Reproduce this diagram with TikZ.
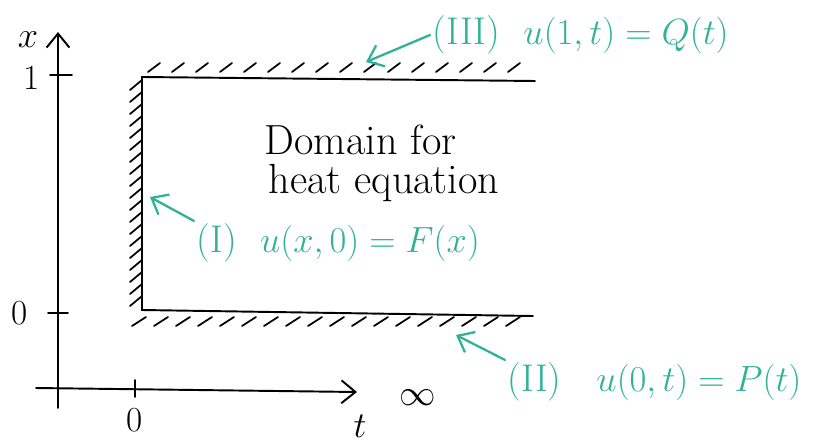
\documentclass[tikz,border=0pt]{standalone}
\usepackage{amsmath,amssymb}
\usepackage{tikz}
\usetikzlibrary{arrows.meta,positioning}
\usepackage{xcolor}
\definecolor{pengreen}{RGB}{48,178,150}

\begin{document}
\begin{tikzpicture}[x=0.02cm, y=-0.02cm, >={Straight Barb[length=8pt,width=13pt]},
  line width=1.1pt, line cap=round,
  hatch/.style={line width=1pt},
  big/.style={font=\fontsize{20}{24}\selectfont},
  cond/.style={font=\fontsize{22}{26}\selectfont, text=pengreen, anchor=west, inner sep=1pt},
  pointer/.style={->, draw=pengreen, line width=1.3pt}]
  \useasboundingbox (0,0) rectangle (837,446);

  % Define coordinates for axes and domain corners
  \coordinate (xb) at (58,408);
  \coordinate (xt) at (58,32);
  \coordinate (tl) at (36,388);
  \coordinate (tr) at (357,392);
  \coordinate (A) at (535,81);
  \coordinate (B) at (142,77);
  \coordinate (C) at (142,310);
  \coordinate (D) at (533,316);

  % Axes with ticks
  \draw[->] (xb) -- (xt);
  \draw[->] (tl) -- (tr);
  \draw (50,75) -- (72,75);
  \draw (48,313) -- (68,313);
  \draw (135,380) -- (135,397);

  % Axis labels
  \node[big] (xlab) at (28,40) {$x$};
  \node[big] (one) at (32,78) {1};
  \node[big] (zx) at (20,313) {0};
  \node[big] (zt) at (135,420) {0};
  \node[big] (tlab) at (360,426) {$t$};
  \node[big] (inf) at (418,398) {$\infty$};

  % Domain boundary with hatching
  \draw (A) -- (B) -- (C) -- (D);
  \foreach \x in {148,172,...,530}
    \draw[hatch] (\x,72) -- ++(12,-9);
  \foreach \y in {90,102,...,310}
    \draw[hatch] (130,\y) -- ++(12,-10);
  \foreach \x in {132,154,...,520}
    \draw[hatch] (\x,326) -- ++(14,-9);

  % Text inside the domain
  \node[font=\fontsize{24}{28}\selectfont, anchor=west] (dom) at (258,140) {Domain for};
  \node[font=\fontsize{24}{28}\selectfont, anchor=west] (heat) at (262,183) {heat equation};

  % Boundary conditions
  \node[cond] (c3) at (430,35) {(III)\ \ $u(1,t)=Q(t)$};
  \node[cond] (c1) at (194,243) {(I)\ \ $u(x,0)=F(x)$};
  \node[cond] (c2) at (505,382) {(II)\ \ \ $u(0,t)=P(t)$};
  \coordinate (p3) at (366,62);
  \coordinate (p1) at (150,197);
  \coordinate (p2) at (456,335);
  \draw[pointer] (c3.west) -- (p3);
  \draw[pointer] (c1.north west) -- (p1);
  \draw[pointer] (c2.north west) -- (p2);
\end{tikzpicture}
\end{document}
